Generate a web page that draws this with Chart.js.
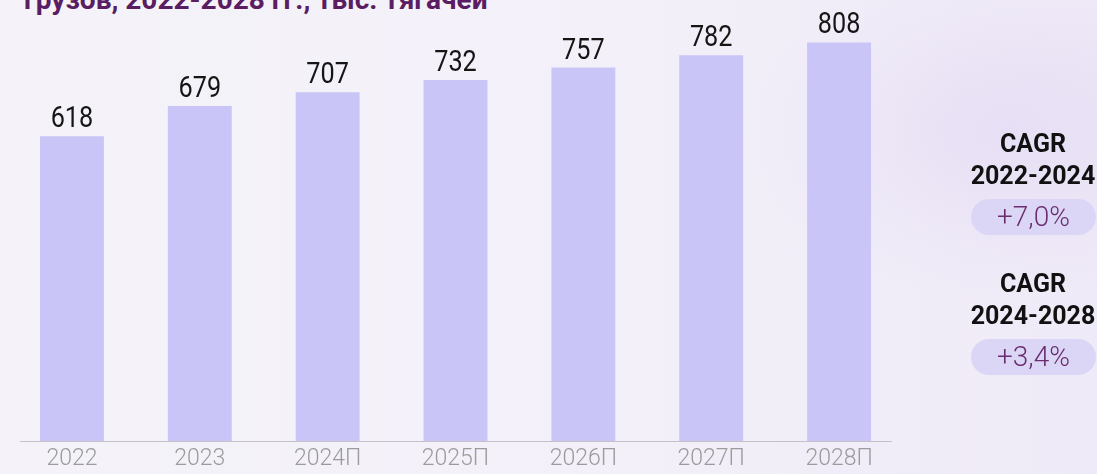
<!DOCTYPE html>
<html lang="ru">
<head>
<meta charset="utf-8">
<script src="https://cdn.jsdelivr.net/npm/chart.js@4/dist/chart.umd.min.js"></script>
<style>
	html, body {
		margin: 0;
		padding: 0;
		width: 1097px;
		height: 474px;
		overflow: hidden;
	}
	body {
		position: relative;
		font-family: Roboto, "Noto Sans", sans-serif;
		background:
			radial-gradient(ellipse 380px 240px at 1010px 130px, rgba(220, 208, 242, 0.45), rgba(220, 208, 242, 0) 70%),
			linear-gradient(90deg, #f5f3f9 0%, #f3f0f9 55%, #efeaf7 100%);
	}
	.title {
		position: absolute;
		left: 24px;
		top: -14px;
		font-size: 28px;
		line-height: 28px;
		font-weight: 700;
		color: #5a1d62;
		white-space: nowrap;
	}
	#chartWrap {
		position: absolute;
		left: 0;
		top: 0;
		width: 1097px;
		height: 474px;
	}
	.cagr {
		position: absolute;
		left: 969px;
		width: 128px;
		text-align: center;
	}
	.cagr .head {
		font-size: 25px;
		line-height: 32px;
		font-weight: 700;
		color: #111;
	}
	.cagr .pill {
		margin: 7px 0 0 2px;
		width: 125px;
		height: 36px;
		border-radius: 18px;
		background: #dcd6f6;
		color: #6a2d70;
		font-size: 28px;
		font-weight: 300;
		line-height: 36px;
	}
</style>
</head>
<body>
<div class="title">грузов, 2022-2028 гг., тыс. тягачей</div>
<div id="chartWrap"><canvas id="myChart" width="1097" height="474"></canvas></div>

<div class="cagr" style="top: 128px;">
	<div class="head">CAGR<br>2022-2024</div>
	<div class="pill" id="cagr1"></div>
</div>
<div class="cagr" style="top: 268px;">
	<div class="head">CAGR<br>2024-2028</div>
	<div class="pill" id="cagr2"></div>
</div>

<script>
// данные графика
const years = ['2022', '2023', '2024П', '2025П', '2026П', '2027П', '2028П'];
const tractors = [618, 679, 707, 732, 757, 782, 808];
const cagrValues = ['+7,0%', '+3,4%'];

document.getElementById('cagr1').textContent = cagrValues[0];
document.getElementById('cagr2').textContent = cagrValues[1];

// подписи значений над столбцами (шрифт чуть сжат по ширине, как в оригинале)
const valueLabels = {
	id: 'valueLabels',
	afterDatasetsDraw(chart) {
		const ctx = chart.ctx;
		const meta = chart.getDatasetMeta(0);
		ctx.save();
		ctx.font = '400 29px Roboto, sans-serif';
		ctx.fillStyle = '#151515';
		ctx.textAlign = 'center';
		ctx.textBaseline = 'alphabetic';
		meta.data.forEach((bar, i) => {
			ctx.save();
			ctx.translate(bar.x, bar.y - 9);
			ctx.scale(0.87, 1);
			ctx.fillText(tractors[i], 0, 0);
			ctx.restore();
		});
		ctx.restore();
	}
};

// линия оси x (короче, чем область графика)
const axisLine = {
	id: 'axisLine',
	beforeDatasetsDraw(chart) {
		const { ctx, chartArea } = chart;
		ctx.save();
		ctx.strokeStyle = '#c4c2c8';
		ctx.lineWidth = 1;
		ctx.beginPath();
		ctx.moveTo(chartArea.left + 12, chartArea.bottom + 0.5);
		ctx.lineTo(chartArea.right - 11, chartArea.bottom + 0.5);
		ctx.stroke();
		ctx.restore();
	}
};

new Chart(document.getElementById('myChart'), {
	type: 'bar',
	data: {
		labels: years,
		datasets: [{
			data: tractors,
			backgroundColor: '#c9c5f7',
			borderWidth: 0,
			barPercentage: 0.5,
			categoryPercentage: 1
		}]
	},
	options: {
		responsive: false,
		devicePixelRatio: 1,
		animation: false,
		layout: {
			padding: { left: 8, right: 194, top: 0, bottom: 0 }
		},
		plugins: {
			legend: { display: false },
			tooltip: { enabled: false }
		},
		scales: {
			x: {
				grid: { display: false, drawTicks: false },
				border: { display: false },
				ticks: {
					color: '#9b9b9b',
					font: { family: 'Roboto', size: 23, weight: '300' },
					padding: 4
				},
				afterFit(scale) {
					scale.height = 33;
				}
			},
			y: {
				display: false,
				min: 0,
				max: 894
			}
		}
	},
	plugins: [axisLine, valueLabels]
});
</script>
</body>
</html>
